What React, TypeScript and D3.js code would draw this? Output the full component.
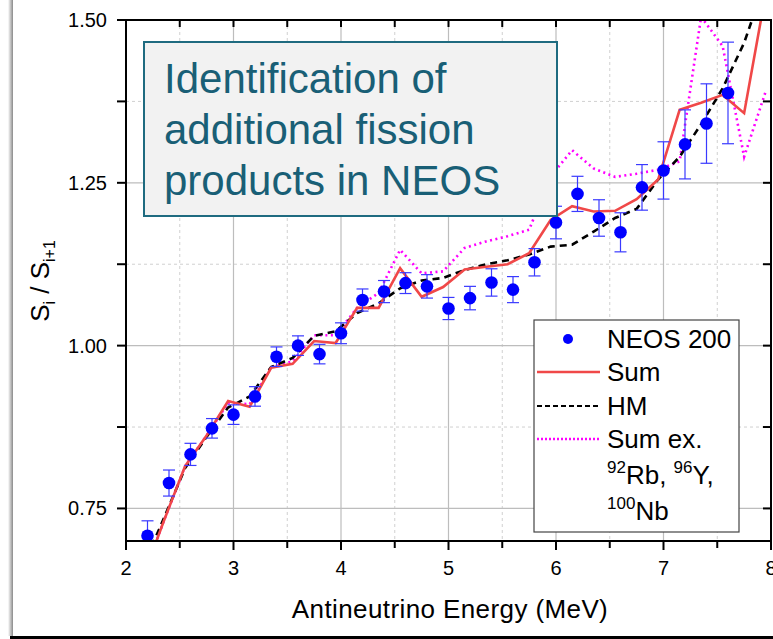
import React from 'react';
import * as d3 from 'd3';

// measured points (NEOS 200)
const energies = [2.2, 2.4, 2.6, 2.8, 3.0, 3.2, 3.4, 3.6, 3.8, 4.0, 4.2, 4.4, 4.6, 4.8, 5.0, 5.2, 5.4, 5.6, 5.8, 6.0, 6.2, 6.4, 6.6, 6.8, 7.0, 7.2, 7.4, 7.6];
const neosRatio = [0.708, 0.789, 0.833, 0.873, 0.894, 0.922, 0.983, 1.0, 0.987, 1.019, 1.07, 1.083, 1.096, 1.091, 1.057, 1.073, 1.097, 1.086, 1.128, 1.189, 1.233, 1.196, 1.174, 1.243, 1.269, 1.309, 1.341, 1.388];
const neosErr = [0.023, 0.02, 0.017, 0.015, 0.015, 0.015, 0.015, 0.015, 0.015, 0.016, 0.017, 0.017, 0.016, 0.018, 0.017, 0.018, 0.021, 0.02, 0.021, 0.025, 0.027, 0.028, 0.03, 0.035, 0.044, 0.053, 0.061, 0.078];

// model curves
const modelE = [2.15, 2.35, 2.55, 2.75, 2.95, 3.15, 3.35, 3.55, 3.75, 3.95, 4.15, 4.35, 4.55, 4.75, 4.95, 5.15, 5.35, 5.55, 5.75, 5.95, 6.15, 6.35, 6.55, 6.75, 6.95, 7.15, 7.35, 7.55, 7.75, 7.95];
const sumRatio = [0.64, 0.73, 0.815, 0.862, 0.915, 0.906, 0.966, 0.972, 1.007, 1.004, 1.058, 1.058, 1.119, 1.075, 1.09, 1.117, 1.121, 1.125, 1.142, 1.193, 1.214, 1.206, 1.207, 1.225, 1.255, 1.362, 1.373, 1.385, 1.357, 1.54];
const hmRatio = [0.658, 0.734, 0.812, 0.86, 0.905, 0.922, 0.967, 0.981, 1.015, 1.022, 1.05, 1.065, 1.088, 1.1, 1.104, 1.116, 1.125, 1.131, 1.14, 1.152, 1.155, 1.175, 1.196, 1.21, 1.255, 1.29, 1.34, 1.395, 1.465, 1.56];
const exRatio = [0.64, 0.73, 0.815, 0.862, 0.912, 0.91, 0.967, 0.976, 1.016, 1.016, 1.058, 1.081, 1.147, 1.111, 1.114, 1.15, 1.16, 1.168, 1.178, 1.26, 1.3, 1.272, 1.259, 1.264, 1.27, 1.283, 1.505, 1.46, 1.29, 1.39];

const xTicks = [2, 3, 4, 5, 6, 7, 8];
const xMinor = [2.5, 3.5, 4.5, 5.5, 6.5, 7.5];
const yTicks = [0.75, 1.0, 1.25, 1.5];
const yMinor = [0.875, 1.125, 1.375];

const titleLines = ['Identification of', 'additional fission', 'products in NEOS'];

const W = 773, H = 639;
const m = { left: 126, right: 2, top: 20, bottom: 98 };

const x = d3.scaleLinear().domain([2, 8]).range([m.left, W - m.right]);
const y = d3.scaleLinear().domain([0.7, 1.5]).range([H - m.bottom, m.top]);

const font = 'Arial, "Liberation Sans", sans-serif';
const teal = '#195f76';

const line = d3.line<number>().x((_, i) => x(modelE[i])).y(d => y(d));

export default function App() {
  const x0 = x.range()[0], x1 = x.range()[1];
  const y0 = y.range()[0], y1 = y.range()[1];
  return (
    <svg width={W} height={H} style={{ position: 'absolute', left: 0, top: 0, background: '#fff' }} fontFamily={font}>
      <defs>
        <clipPath id="plot"><rect x={x0} y={y1} width={x1 - x0} height={y0 - y1} /></clipPath>
        <linearGradient id="shadow" x1="0" x2="1">
          <stop offset="0" stopColor="#fff" />
          <stop offset="1" stopColor="#8a8a8a" />
        </linearGradient>
      </defs>
      {/* slide frame */}
      <rect x={8} y={0} width={5} height={H - 3} fill="url(#shadow)" />
      <rect x={10} y={H - 3} width={W - 10} height={3} fill="#000" />

      {/* grid */}
      {xMinor.map(t => <line key={'gx' + t} x1={x(t)} x2={x(t)} y1={y1} y2={y0} stroke="#d0d0d0" strokeDasharray="3,3" />)}
      {yMinor.map(t => <line key={'gy' + t} x1={x0} x2={x1} y1={y(t)} y2={y(t)} stroke="#d0d0d0" strokeDasharray="3,3" />)}
      {xTicks.slice(1, -1).map(t => <line key={'Gx' + t} x1={x(t)} x2={x(t)} y1={y1} y2={y0} stroke="#bdbdbd" strokeWidth={1.2} />)}
      {yTicks.slice(0, -1).map(t => <line key={'Gy' + t} x1={x0} x2={x1} y1={y(t)} y2={y(t)} stroke="#bdbdbd" strokeWidth={1.2} />)}

      <g clipPath="url(#plot)">
        <path d={line(exRatio) || ''} fill="none" stroke="#ff00ff" strokeWidth={2.6} strokeDasharray="2,3.5" />
        <path d={line(hmRatio) || ''} fill="none" stroke="#000" strokeWidth={2.6} strokeDasharray="7,5" />
        <path d={line(sumRatio) || ''} fill="none" stroke="#f04848" strokeWidth={2.6} />
        {energies.map((e, i) => {
          const cx = x(e), top = y(neosRatio[i] + neosErr[i]), bot = y(neosRatio[i] - neosErr[i]);
          return (
            <g key={'p' + e} stroke="#3a3aff" strokeWidth={1.2}>
              <line x1={cx} x2={cx} y1={top} y2={bot} />
              <line x1={cx - 6} x2={cx + 6} y1={top} y2={top} />
              <line x1={cx - 6} x2={cx + 6} y1={bot} y2={bot} />
            </g>
          );
        })}
        {energies.map((e, i) => <circle key={'c' + e} cx={x(e)} cy={y(neosRatio[i])} r={6.3} fill="#0000ff" />)}
      </g>

      {/* axes */}
      <g stroke="#000">
        <rect x={x0} y={y1} width={x1 - x0} height={y0 - y1} fill="none" strokeWidth={2} />
        {xTicks.map(t => <line key={'bt' + t} x1={x(t)} x2={x(t)} y1={y0} y2={y0 + 9} strokeWidth={2} />)}
        {xMinor.map(t => <line key={'bm' + t} x1={x(t)} x2={x(t)} y1={y0} y2={y0 + 7} strokeWidth={2} />)}
        {[...xTicks, ...xMinor].map(t => <line key={'tt' + t} x1={x(t)} x2={x(t)} y1={y1} y2={y1 + 7} strokeWidth={2} />)}
        {[...yTicks, ...yMinor].map(t => <line key={'lt' + t} x1={x0} x2={x0 - 9} y1={y(t)} y2={y(t)} strokeWidth={2} />)}
        {[...yTicks, ...yMinor].map(t => <line key={'rt' + t} x1={x1} x2={x1 - 8} y1={y(t)} y2={y(t)} strokeWidth={2} />)}
      </g>
      {xTicks.map(t => (
        <text key={'xl' + t} x={x(t)} y={y0 + 34} fontSize={20} textAnchor="middle" fill="#000">{d3.format('d')(t)}</text>
      ))}
      {yTicks.map(t => (
        <text key={'yl' + t} x={x0 - 19} y={y(t) + 7} fontSize={20} textAnchor="end" fill="#000">{d3.format('.2f')(t)}</text>
      ))}
      <text x={450} y={618} fontSize={26} letterSpacing={0.4} textAnchor="middle" fill="#000">Antineutrino Energy (MeV)</text>
      <text transform="translate(49,281) rotate(-90)" fontSize={26} textAnchor="middle" fill="#000">
        S<tspan fontSize={16} dy={6}>i</tspan><tspan dy={-6}> / S</tspan><tspan fontSize={16} dy={6}>i+1</tspan>
      </text>

      {/* title box */}
      <rect x={144} y={42} width={413} height={174} fill="#f2f2f2" stroke="#1f6b80" strokeWidth={2} />
      {titleLines.map((s, i) => (
        <text key={s} x={164} y={93 + i * 51} fontSize={42} fill={teal}>{s}</text>
      ))}

      {/* legend */}
      <g fontSize={26} fill="#000">
        <rect x={534} y={320} width={205} height={212} fill="#fff" stroke="#444" strokeWidth={1.2} />
        <circle cx={568} cy={339} r={5} fill="#0000ff" />
        <text x={607} y={348}>NEOS 200</text>
        <line x1={537} x2={600} y1={372} y2={372} stroke="#f04848" strokeWidth={2.6} />
        <text x={607} y={381}>Sum</text>
        <line x1={537} x2={600} y1={406} y2={406} stroke="#000" strokeWidth={2} strokeDasharray="5,3" />
        <text x={607} y={415}>HM</text>
        <line x1={537} x2={600} y1={439} y2={439} stroke="#ff00ff" strokeWidth={2.6} strokeDasharray="2,2" />
        <text x={607} y={448}>Sum ex.</text>
        <text x={607} y={484}><tspan fontSize={17} dy={-11}>92</tspan><tspan dy={11}>Rb, </tspan><tspan fontSize={17} dy={-11}>96</tspan><tspan dy={11}>Y,</tspan></text>
        <text x={607} y={520}><tspan fontSize={17} dy={-11}>100</tspan><tspan dy={11}>Nb</tspan></text>
      </g>
    </svg>
  );
}
